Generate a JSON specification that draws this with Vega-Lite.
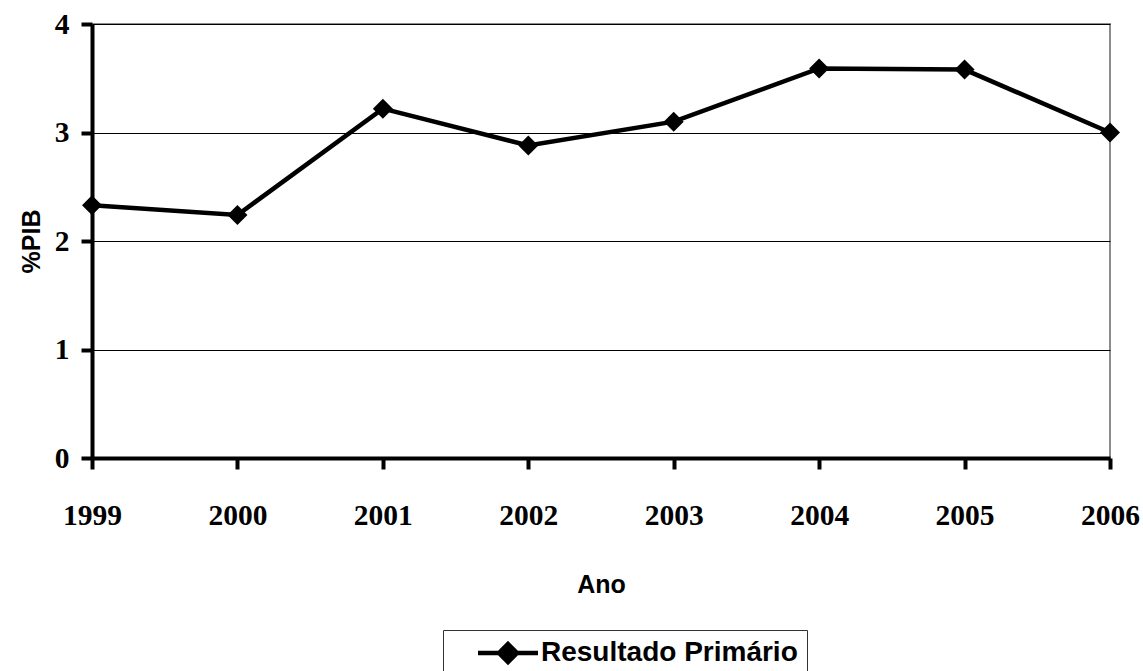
{
  "$schema": "https://vega.github.io/schema/vega-lite/v6.json",
  "autosize": {"type": "none"},
  "width": 1018,
  "height": 434,
  "padding": {"left": 92, "top": 24, "right": 33, "bottom": 213},
  "background": "white",
  "data": {
    "values": [
      {"ano": "1999", "pib": 2.33, "serie": "Resultado Primário"},
      {"ano": "2000", "pib": 2.24, "serie": "Resultado Primário"},
      {"ano": "2001", "pib": 3.22, "serie": "Resultado Primário"},
      {"ano": "2002", "pib": 2.88, "serie": "Resultado Primário"},
      {"ano": "2003", "pib": 3.10, "serie": "Resultado Primário"},
      {"ano": "2004", "pib": 3.59, "serie": "Resultado Primário"},
      {"ano": "2005", "pib": 3.58, "serie": "Resultado Primário"},
      {"ano": "2006", "pib": 3.00, "serie": "Resultado Primário"}
    ]
  },
  "mark": {
    "type": "line",
    "color": "black",
    "strokeWidth": 4.5,
    "point": {"filled": true, "shape": "diamond", "size": 400, "color": "black", "opacity": 1}
  },
  "encoding": {
    "x": {
      "field": "ano",
      "type": "ordinal",
      "scale": {"type": "point", "padding": 0},
      "axis": {
        "title": "Ano",
        "labelAngle": 0,
        "labelFont": "Liberation Serif",
        "labelFontSize": 29.5,
        "labelFontWeight": "bold",
        "labelColor": "black",
        "labelPadding": 32,
        "labelOverlap": false,
        "domainColor": "black",
        "domainWidth": 4,
        "tickColor": "black",
        "tickWidth": 4,
        "tickSize": 11,
        "titleFont": "Liberation Sans",
        "titleFontSize": 25,
        "titleFontWeight": "bold",
        "titleColor": "black",
        "titlePadding": 43,
        "grid": false
      }
    },
    "y": {
      "field": "pib",
      "type": "quantitative",
      "scale": {"domain": [0, 4], "nice": false},
      "axis": {
        "title": "%PIB",
        "values": [0, 1, 2, 3, 4],
        "labelFont": "Liberation Serif",
        "labelFontSize": 29.5,
        "labelFontWeight": "bold",
        "labelColor": "black",
        "labelPadding": 12,
        "domainColor": "black",
        "domainWidth": 4,
        "tickColor": "black",
        "tickWidth": 4,
        "tickSize": 11,
        "grid": true,
        "gridColor": "black",
        "gridWidth": 1,
        "gridOpacity": 1,
        "titleFont": "Liberation Sans",
        "titleFontSize": 25,
        "titleFontWeight": "bold",
        "titleColor": "black",
        "titlePadding": 10
      }
    },
    "color": {
      "field": "serie",
      "type": "nominal",
      "scale": {"range": ["black"]},
      "legend": {
        "title": null,
        "orient": "none",
        "legendX": 351,
        "legendY": 606,
        "strokeColor": "#333",
        "fillColor": "white",
        "padding": 9,
        "symbolType": "M-3,0L3,0M0,-0.9L0.9,0L0,0.9L-0.9,0Z",
        "symbolSize": 400,
        "symbolStrokeWidth": 4.5,
        "symbolFillColor": "black",
        "symbolStrokeColor": "black",
        "symbolOffset": 42,
        "labelOffset": 19,
        "labelFont": "Liberation Sans",
        "labelFontSize": 28,
        "labelFontWeight": "bold",
        "labelColor": "black",
        "labelLimit": 0
      }
    }
  },
  "config": {
    "view": {"stroke": "#8c8c8c", "strokeWidth": 2}
  }
}
